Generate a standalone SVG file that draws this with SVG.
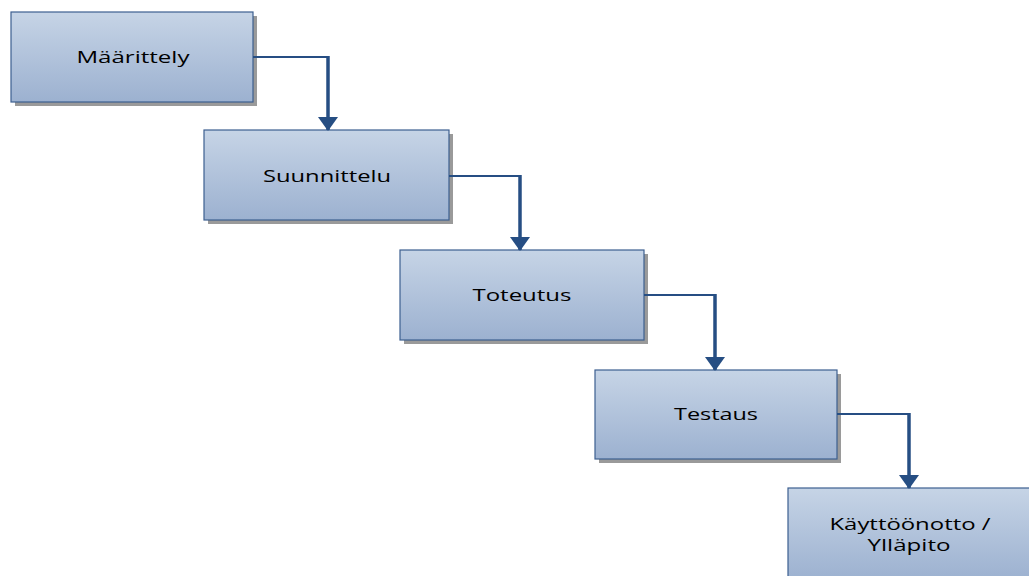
<svg xmlns="http://www.w3.org/2000/svg" width="1029" height="576" viewBox="0 0 1029 576">
<defs>
<linearGradient id="g" x1="0" y1="0" x2="0" y2="1">
<stop offset="0" stop-color="#c6d4e6"/>
<stop offset="1" stop-color="#9cb1d0"/>
</linearGradient>
<marker id="ah" markerWidth="14" markerHeight="20" refX="13" refY="10" orient="auto" markerUnits="userSpaceOnUse" viewBox="0 0 14 20">
<path d="M0,0 L14,10 L0,20 Z" fill="#264e83"/>
</marker>
<style>
.sh{fill:#9a9a9a}
.bx{fill:url(#g);stroke:#3d5f90;stroke-width:1.2}
.t{font-family:"Open Sans","Liberation Sans",sans-serif;font-size:17px;fill:#000;text-anchor:middle;dominant-baseline:central}
.h{fill:none;stroke:#264e83;stroke-width:2}
.v{fill:none;stroke:#264e83;stroke-width:3.5}
</style>
</defs>
<rect width="1029" height="576" fill="#fff"/>
<g id="n1"><rect class="sh" x="15" y="16" width="242" height="90"/><rect class="bx" x="11" y="12" width="242" height="90"/><text class="t" x="133" y="56" textLength="113" lengthAdjust="spacingAndGlyphs">Määrittely</text></g>
<g id="n2"><rect class="sh" x="208" y="134" width="245" height="90"/><rect class="bx" x="204" y="130" width="245" height="90"/><text class="t" x="327" y="175" textLength="128" lengthAdjust="spacingAndGlyphs">Suunnittelu</text></g>
<g id="n3"><rect class="sh" x="404" y="254" width="244" height="90"/><rect class="bx" x="400" y="250" width="244" height="90"/><text class="t" x="522" y="294" textLength="99" lengthAdjust="spacingAndGlyphs">Toteutus</text></g>
<g id="n4"><rect class="sh" x="599" y="374" width="242" height="89"/><rect class="bx" x="595" y="370" width="242" height="89"/><text class="t" x="716" y="413" textLength="84" lengthAdjust="spacingAndGlyphs">Testaus</text></g>
<g id="n5"><rect class="bx" x="788" y="488" width="244" height="92"/><text class="t" x="910" y="523" textLength="161" lengthAdjust="spacingAndGlyphs">Käyttöönotto /</text><text class="t" x="909" y="544" textLength="83" lengthAdjust="spacingAndGlyphs">Ylläpito</text></g>
<g id="connectors">
<path class="h" d="M253,57 H328"/><path class="v" d="M328,56 V130" marker-end="url(#ah)"/>
<path class="h" d="M449,176 H520"/><path class="v" d="M520,175 V250" marker-end="url(#ah)"/>
<path class="h" d="M644,295 H715"/><path class="v" d="M715,294 V370" marker-end="url(#ah)"/>
<path class="h" d="M837,414 H909"/><path class="v" d="M909,413 V488" marker-end="url(#ah)"/>
</g>
</svg>
